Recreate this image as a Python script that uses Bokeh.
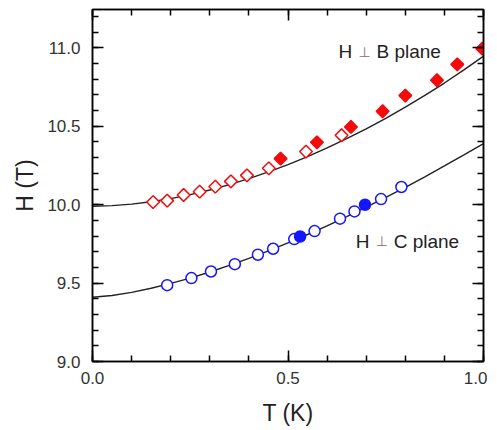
import math
from bokeh.plotting import figure
from bokeh.models import LinearAxis, Range1d, Label, FixedTicker
from bokeh.embed import file_html
from bokeh.resources import INLINE

# H perpendicular to B plane: open and filled diamonds
b_open_T = [0.155, 0.191, 0.233, 0.274, 0.314, 0.354, 0.395, 0.451, 0.546, 0.637]
b_open_H = [10.017, 10.026, 10.062, 10.083, 10.115, 10.149, 10.187, 10.232, 10.339, 10.443]
b_fill_T = [0.481, 0.574, 0.661, 0.742, 0.800, 0.881, 0.933, 0.997]
b_fill_H = [10.294, 10.398, 10.496, 10.596, 10.696, 10.794, 10.895, 10.995]

# H perpendicular to C plane: open and filled circles
c_open_T = [0.191, 0.253, 0.303, 0.364, 0.423, 0.462, 0.516, 0.568, 0.633, 0.670, 0.738, 0.790]
c_open_H = [9.487, 9.532, 9.574, 9.621, 9.681, 9.719, 9.781, 9.832, 9.911, 9.957, 10.036, 10.113]
c_fill_T = [0.531, 0.697]
c_fill_H = [9.797, 10.000]

# fit curves
fit_T = [0.0, 0.05, 0.1, 0.15, 0.2, 0.25, 0.3, 0.35, 0.4, 0.45, 0.5,
         0.55, 0.6, 0.65, 0.7, 0.75, 0.8, 0.85, 0.9, 0.95, 1.0]
fit_B = [9.990, 9.994, 10.004, 10.019, 10.039, 10.064, 10.094, 10.128, 10.166, 10.209, 10.256,
         10.307, 10.362, 10.421, 10.484, 10.551, 10.622, 10.697, 10.776, 10.860, 10.948]
fit_C = [9.410, 9.421, 9.441, 9.467, 9.498, 9.532, 9.571, 9.613, 9.658, 9.706, 9.756,
         9.810, 9.865, 9.924, 9.984, 10.047, 10.111, 10.178, 10.247, 10.318, 10.390]

x_ticks = [0.0, 0.5, 1.0]
y_ticks = [9.0, 9.5, 10.0, 10.5, 11.0]

p = figure(width=487, height=428, output_backend="svg", toolbar_location=None,
           x_range=Range1d(0, 1.0), y_range=Range1d(9.0, 11.245),
           min_border_left=92, min_border_right=4, min_border_top=9, min_border_bottom=66)
p.grid.visible = False
p.outline_line_color = "black"
p.outline_line_width = 1.5

FONT = "Liberation Sans"

def style_axis(ax):
    ax.axis_line_color = "black"
    ax.axis_line_width = 1.5
    ax.major_tick_line_color = "black"
    ax.minor_tick_line_color = "black"
    ax.major_tick_line_width = 1.5
    ax.minor_tick_line_width = 1.5
    ax.major_tick_in = 11
    ax.major_tick_out = 0
    ax.minor_tick_in = 6
    ax.minor_tick_out = 0
    ax.major_label_text_font = FONT
    ax.major_label_text_color = "#333333"
    ax.major_label_text_font_size = "17px"

xt = FixedTicker(ticks=x_ticks, minor_ticks=[i / 10 for i in range(11)])
yt = FixedTicker(ticks=y_ticks, minor_ticks=[9.0 + i / 10 for i in range(23)])

p.xaxis.ticker = xt
p.yaxis.ticker = yt
p.xaxis.major_label_overrides = {t: f"{t:.1f}" for t in x_ticks}
p.yaxis.major_label_overrides = {t: f"{t:.1f}" for t in y_ticks}
for ax in p.xaxis + p.yaxis:
    style_axis(ax)
p.xaxis.major_label_standoff = 10
p.yaxis.major_label_standoff = 12
p.xaxis.axis_label = "T (K)"
p.yaxis.axis_label = "H (T)"
for ax in p.xaxis + p.yaxis:
    ax.axis_label_text_font = FONT
    ax.axis_label_text_font_size = "23px"
    ax.axis_label_text_font_style = "normal"
    ax.axis_label_text_color = "#222222"
p.xaxis.axis_label_standoff = 13
p.yaxis.axis_label_standoff = 6

right = LinearAxis(ticker=yt)
top = LinearAxis(ticker=xt)
for ax in (right, top):
    style_axis(ax)
    ax.major_label_standoff = 0
right.major_label_overrides = {t: "" for t in y_ticks}
top.major_label_overrides = {t: "" for t in x_ticks}
p.add_layout(right, "right")
p.add_layout(top, "above")

p.line(fit_T, fit_B, line_color="#222222", line_width=1.4)
p.line(fit_T, fit_C, line_color="#222222", line_width=1.4)

red = "#f50a0a"
blue = "#1515ff"
diamond = math.pi / 4
p.scatter(b_open_T, b_open_H, marker="square", angle=diamond, size=9, fill_color="white",
          line_color=red, line_width=1.5)
p.scatter(b_fill_T, b_fill_H, marker="square", angle=diamond, size=9, fill_color=red,
          line_color=red, line_width=1.5)
p.scatter(c_open_T, c_open_H, marker="circle", size=11, fill_color="white",
          line_color=blue, line_width=1.5)
p.scatter(c_fill_T, c_fill_H, marker="circle", size=11, fill_color=blue,
          line_color=blue, line_width=1.5)

def plane_label(x, y, letter):
    p.add_layout(Label(x=x, y=y, text="H", text_font=FONT, text_font_size="19px",
                       text_color="#222222", text_baseline="middle"))
    p.add_layout(Label(x=x, y=y, x_offset=20, text="\u22a5", text_font="DejaVu Sans",
                       text_font_size="14px", text_color="#8c6e6e", text_baseline="middle"))
    p.add_layout(Label(x=x, y=y, x_offset=38, text=f"{letter} plane", text_font=FONT,
                       text_font_size="19px", text_color="#222222", text_baseline="middle"))

plane_label(0.629, 10.974, "B")
plane_label(0.673, 9.766, "C")

open("out.html", "w").write(file_html(p, INLINE))
